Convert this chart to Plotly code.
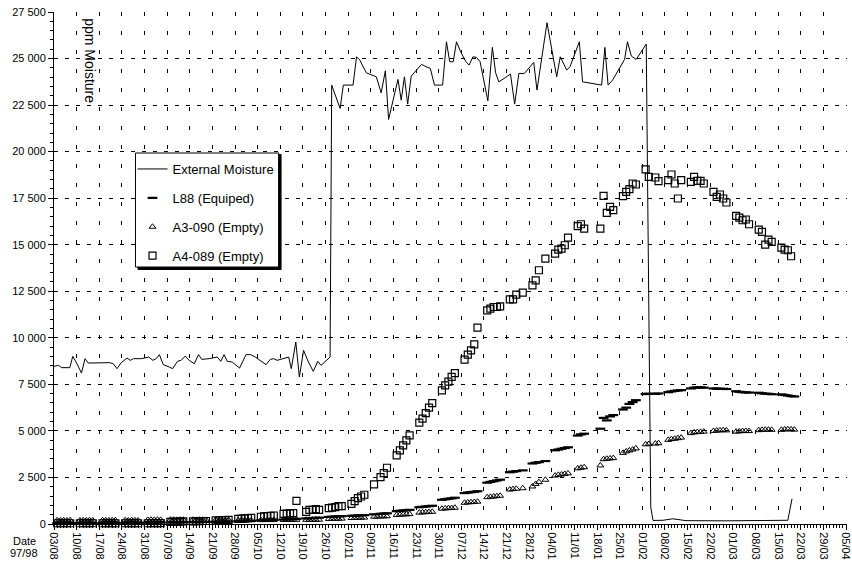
import pandas as pd
import plotly.graph_objects as go

START_DATE = "1997-08-03"

# ---------------- data ----------------
# External Moisture line: days since 03/08/97 and ppm
ext_days = [0.0, 1.4, 2.4, 4.9, 5.8, 7.0, 8.5, 9.6, 10.6, 14.2, 17.2, 18.3, 19.5, 20.8,
            22.6, 23.6, 24.6, 27.0, 29.3, 30.6, 31.6, 32.6, 33.8, 35.7, 36.7, 38.2, 39.3,
            40.6, 41.8, 43.4, 44.7, 45.7, 48.0, 50.5, 51.6, 52.6, 53.6, 55.1, 57.4, 59.4,
            60.8, 62.3, 64.4, 65.6, 66.9, 68.0, 69.0, 70.5, 72.6, 73.4, 74.8, 75.9, 77.2,
            78.7, 80.2, 81.6, 82.6, 85.4, 85.9, 88.5, 89.5, 92.5, 93.6, 94.6, 96.6, 99.7,
            101.2, 102.5, 103.5, 106.4, 107.4, 108.4, 109.4, 110.5, 112.0, 113.7, 115.1,
            116.4, 117.7, 120.2, 121.4, 122.4, 123.5, 124.5, 125.8, 127.4, 128.4, 129.6,
            130.7, 131.8, 134.2, 135.6, 136.6, 137.6, 139.2, 141.2, 142.5, 143.8, 145.5,
            148.4, 149.4, 152.5, 155.5, 156.6, 158.6, 159.6, 162.5, 163.5, 169.4, 170.4,
            171.4, 172.8, 176.5, 177.4, 178.6, 180.1, 183.2, 184.6, 185.3, 188.4, 191.4,
            195.5, 207.8, 220.1, 227.0, 228.3]
ext_ppm = [8467, 8520, 8397, 8397, 9005, 8645, 8107, 8880, 8645, 8640, 8665, 8610, 8343, 8665,
           8913, 8790, 8880, 8880, 8967, 8790, 8880, 9096, 8558, 8430, 8343, 8736, 8790,
           9020, 8790, 8610, 9096, 8843, 8880, 8967, 8736, 9096, 8736, 8700, 8375, 9096,
           9096, 8967, 8736, 8558, 8843, 8880, 8790, 8880, 8967, 8343, 9774, 7892, 9327,
           8700, 8198, 8736, 8520, 8967, 23574, 22320, 23574, 23574, 25096, 24918, 24236, 24020,
           23160, 24344, 21730, 23880, 22767, 24020, 22552, 24060, 24344, 24686, 24560,
           24470, 23574, 23574, 25900, 24830, 24830, 25900, 25364, 24830, 24650, 25096,
           25060, 24830, 22730, 25600, 24236, 23750, 23930, 24165, 22552, 24200, 24200,
           24793, 23305, 26923, 24020, 25096, 24380, 24560, 25900, 23750, 23574, 25600,
           23574, 23843, 24955, 25900, 25130, 24955, 25780, 900, 190, 200, 280,
           180, 170, 180, 200, 1355]

# Weekday sample days (Mon-Fri), days since 03/08/97
sample_days = [1, 2, 3, 4, 5, 8, 9, 10, 11, 12, 15, 16, 17, 18, 19, 22, 23, 24, 25, 26,
               29, 30, 31, 32, 33, 36, 37, 38, 39, 40, 43, 44, 45, 46, 47, 50, 51, 52, 53, 54,
               57, 58, 59, 60, 61, 64, 65, 66, 67, 68, 71, 72, 73, 74, 75, 78, 79, 80, 81, 82,
               85, 86, 87, 88, 89, 92, 93, 94, 95, 96, 99, 100, 101, 102, 103,
               106, 107, 108, 109, 110, 113, 114, 115, 116, 117, 120, 121, 122, 123, 124,
               127, 128, 129, 130, 131, 134, 135, 136, 137, 138, 141, 142, 143, 144, 145,
               148, 149, 150, 151, 152, 155, 156, 157, 158, 159, 162, 163, 164, 165, 166,
               169, 170, 171, 172, 173, 176, 177, 178, 179, 180, 183, 184, 185, 186, 187,
               190, 191, 192, 193, 194, 197, 198, 199, 200, 201, 204, 205, 206, 207, 208,
               211, 212, 213, 214, 215, 218, 219, 220, 221, 222, 225, 226, 227, 228, 229]

l88_ppm = [50, 50, 50, 50, 50, 50, 50, 50, 50, 50, 50, 55, 55, 55, 60, 60, 60, 60, 65, 65,
           70, 70, 75, 75, 80, 80, 85, 85, 90, 90, 100, 100, 105, 110, 110, 120, 125, 130, 130, 135,
           150, 155, 160, 165, 170, 190, 200, 205, 210, 220, 240, 250, 260, 270, 280, 300, 310, 320, 330, 340,
           380, 390, 400, 410, 420, 440, 450, 457, 465, 475, 520, None, 548, 560, 575,
           690, 710, 726, 740, 760, 900, 920, 940, 960, 980, 1300, 1330, 1355, 1380, 1410,
           1660, 1690, 1710, 1730, 1760, 2220, 2260, 2301, 2340, 2380, 2780, 2810, 2839, None, 2880,
           3250, 3290, 3322, None, 3380, 3960, 4000, 4043, 4080, 4120, 4750, 4812, 4850, None, None,
           5117, 5700, 5564, 5779, 5850, 6150, 6250, 6450, 6550, 6650, 6980, 7000, None, 6990, 7010,
           7080, 7120, 7150, 7170, 7190, 7280, 7320, 7340, 7340, 7320, 7280, 7270, 7260, 7260, 7250,
           7130, 7100, 7080, 7070, 7060, 7050, 7020, 7000, 6990, 6970, 6960, 6930, 6900, 6870, 6850]

a3_ppm = [200, 190, 200, 190, 200, 190, 200, 190, 200, 190, 200, 200, 190, 200, 200, 200, 190, 200, 200, 190,
          220, 230, 220, 230, 220, 230, 230, 220, 230, 230, 230, 220, 230, 230, 220, 210, 200, 210, 200, 210,
          200, 210, 200, 210, 200, 210, 210, 220, 210, 220, 220, 220, 230, 220, 230, 225, 225, 230, 225, 230,
          270, 280, 280, 285, 290, 320, 330, 335, 340, 345, 390, 400, 405, 410, 415,
          490, 500, 510, 520, 530, 610, 625, 635, 645, 655, 820, 840, 850, 860, 875,
          1140, 1160, 1172, 1185, 1200, 1440, 1460, 1478, 1495, 1515, 1850, 1875, 1892, None, 1920,
          2016, 2150, 2250, None, 2376, 2600, 2640, 2661, 2690, 2720, 2990, 3021, 3050, None, None,
          3145, 3480, 3505, 3520, 3540, 3820, 3900, 3951, 4000, 4060, 4280, 4300, None, 4320, 4340,
          4520, 4560, 4580, 4610, 4640, 4880, 4920, 4935, 4950, 4960, 5000, 5020, 5027, 5040, 5030,
          4960, 4980, 4989, 5000, 4990, 5040, 5060, 5064, 5070, 5060, 5060, 5080, 5090, 5080, 5070]

a4_ppm = [40, 40, 40, 40, 40, 40, 40, 40, 40, 40, 40, 40, 40, 40, 40, 40, 40, 40, 40, 40,
          40, 40, 45, 45, 50, 110, 120, 130, 130, 140, 140, 150, 150, 160, 160, 190, 200, 210, 210, 225,
          270, 290, 300, 320, 330, 390, 410, 430, 440, 457, 540, 560, 570, 580, 1240, 650, 763, 763, 796, 763,
          850, 880, 903, 957, 960, 1086, 1226, 1387, 1478, 1570, 2124, None, 2516, 2731, 3021,
          3683, 3951, 4220, 4489, 4758, 5440, 5655, 5957, 6247, 6494, 7177, 7446, 7650, 7900, 8107,
          8827, 9096, 9327, 9650, 10548, 11478, 11569, 11655, 11655, 11693, 12069, 12069, 12322, None, 12430,
          12822, 13090, 13628, None, 14257, 14526, 14740, 14794, 14973, 15386, 15994, 16101, 15870, None, None,
          15870, 17623, 16709, 17032, 16854, 17607, 17838, 17983, 18289, 18235, 19042, 18644, None, 18612, 18413,
          18467, 18773, 18289, 17483, 18467, 18375, 18644, 18429, 18429, 18289, 17838, 17569, 17698, 17483, 17268,
          16548, 16461, 16316, 16354, 16101, 15816, 15687, 15010, 15279, 15150, 14848, 14740, 14703, 14381, None]

y_tickvals = [0, 2500, 5000, 7500, 10000, 12500, 15000, 17500, 20000, 22500, 25000, 27500]
y_ticktext = ["0", "2 500", "5 000", "7 500", "10 000", "12 500", "15 000", "17 500",
              "20 000", "22 500", "25 000", "27 500"]

# ---------------- figure ----------------
start = pd.Timestamp(START_DATE)
def to_dates(days):
    return start + pd.to_timedelta(days, unit="D")

W, H = 852, 562
ML, MR, MT, MB = 54, 0, 12, 38
PW, PH = W - ML - MR, H - MT - MB

def px(x):
    return (x - ML) / PW

def py(y):
    return 1 - (y - MT) / PH

FONT = "Liberation Sans, Arial, sans-serif"

fig = go.Figure()
fig.add_trace(go.Scatter(x=to_dates(ext_days), y=ext_ppm, mode="lines", name="External Moisture",
                         line=dict(color="black", width=1), legendgroup="a", cliponaxis=False))
fig.add_trace(go.Scatter(x=to_dates(sample_days), y=l88_ppm, mode="markers", name="L88 (Equiped)",
                         marker=dict(symbol="line-ew", size=7, line=dict(color="black", width=2.2)),
                         legendgroup="b", cliponaxis=False))
fig.add_trace(go.Scatter(x=to_dates(sample_days), y=a3_ppm, mode="markers", name="A3-090 (Empty)",
                         marker=dict(symbol="triangle-up-open", size=6, color="black",
                                     line=dict(color="black", width=1)),
                         legendgroup="c", cliponaxis=False))
fig.add_trace(go.Scatter(x=to_dates(sample_days), y=a4_ppm, mode="markers", name="A4-089 (Empty)",
                         marker=dict(symbol="square-open", size=7, color="black",
                                     line=dict(color="black", width=1.2)),
                         legendgroup="d", cliponaxis=False))

x_end = start + pd.to_timedelta(245.3, unit="D")

fig.update_layout(
    width=W, height=H, autosize=False,
    margin=dict(l=ML, r=MR, t=MT, b=MB, pad=0),
    paper_bgcolor="white", plot_bgcolor="white",
    font=dict(family=FONT, size=11, color="black"),
    showlegend=True,
    legend=dict(x=px(133), y=py(154), xanchor="left", yanchor="top",
                bgcolor="rgba(0,0,0,0)", borderwidth=0,
                font=dict(family=FONT, size=13, color="black"),
                traceorder="grouped", tracegroupgap=9, itemwidth=30),
    xaxis=dict(type="date", range=[start, x_end], tick0=start, dtick=7 * 86400000,
               tickformat="%d/%m", tickangle=90, ticks="outside", ticklen=5, tickcolor="black",
               ticklabeloverflow="allow",
               showline=True, linecolor="black", linewidth=1,
               showgrid=True, gridcolor="black", gridwidth=1, griddash="4px,15px",
               zeroline=False,
               minor=dict(dtick=86400000, ticks="outside", ticklen=3, tickcolor="black", showgrid=False),
               tickfont=dict(family=FONT, size=11, color="black")),
    yaxis=dict(range=[0, 27500], tickvals=y_tickvals, ticktext=y_ticktext,
               ticks="outside", ticklen=5, tickcolor="black",
               showline=True, linecolor="black", linewidth=1,
               showgrid=True, gridcolor="black", gridwidth=1, griddash="4px,7px",
               zeroline=False,
               minor=dict(dtick=500, ticks="outside", ticklen=3, tickcolor="black", showgrid=False),
               tickfont=dict(family=FONT, size=11, color="black")),
)

fig.add_annotation(text="ppm Moisture", textangle=90, xref="paper", yref="paper",
                   x=px(90), y=py(61), xanchor="center", yanchor="middle", showarrow=False,
                   font=dict(family=FONT, size=14, color="black"))
fig.add_annotation(text="Date", xref="paper", yref="paper", x=px(24), y=py(541),
                   xanchor="center", yanchor="middle",
                   showarrow=False, font=dict(family=FONT, size=11, color="black"))
fig.add_annotation(text="97/98", xref="paper", yref="paper", x=px(24), y=py(553),
                   xanchor="center", yanchor="middle",
                   showarrow=False, font=dict(family=FONT, size=11, color="black"))

# legend box with drop shadow
fig.add_shape(type="rect", xref="paper", yref="paper", layer="above",
              x0=px(138.5), x1=px(282.5), y0=py(269.5), y1=py(154.5),
              fillcolor="black", line=dict(color="black", width=1))
fig.add_shape(type="rect", xref="paper", yref="paper", layer="above",
              x0=px(136), x1=px(280), y0=py(267), y1=py(153),
              fillcolor="white", line=dict(color="black", width=1))

fig.write_html("out.html", config={"displayModeBar": False},
               post_script="document.body.style.margin='0';document.body.style.overflow='hidden';")
